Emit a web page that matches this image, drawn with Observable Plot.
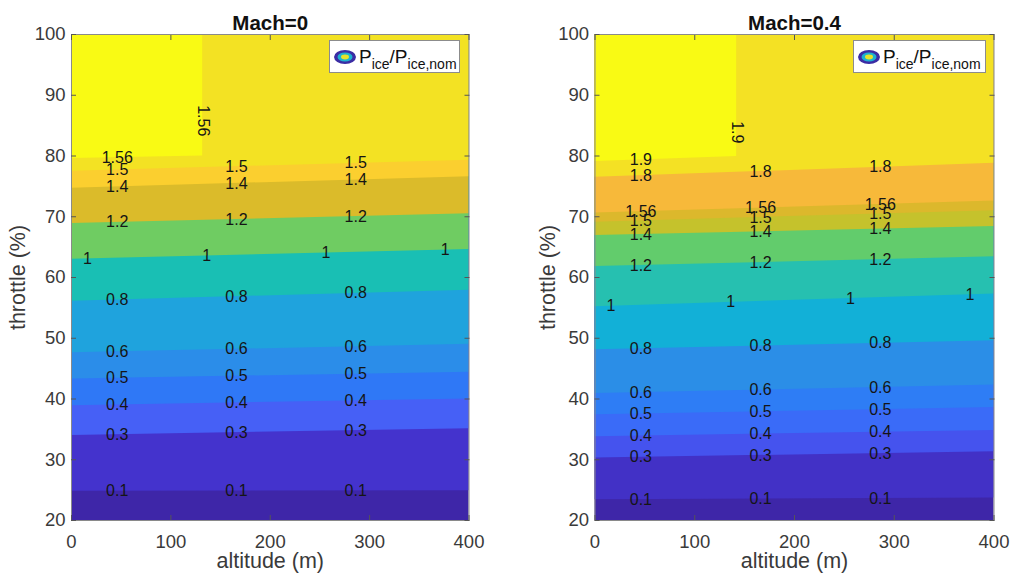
<!DOCTYPE html>
<html><head><meta charset="utf-8">
<script src="https://cdn.jsdelivr.net/npm/d3@7"></script>
<script src="https://cdn.jsdelivr.net/npm/@observablehq/plot@0.6"></script>
<style>
body{margin:0;background:#fff;font-family:"Liberation Sans",Arial,sans-serif}
#wrap{position:relative;width:1020px;height:580px;overflow:hidden}
.panel{position:absolute;top:0}
.leg{position:absolute;background:#fff;border:1px solid #8c8c8c;box-sizing:border-box;color:#111;white-space:nowrap;display:flex;align-items:center;font-size:19px;line-height:1}
.leg svg{margin:0 2px 0 3px}
.leg .sb{font-size:14px;position:relative;top:7px}
</style></head>
<body><div id="wrap"></div>
<script>
// ---------- data ----------
const xTicks = [0, 100, 200, 300, 400];
const yTicks = [20, 30, 40, 50, 60, 70, 80, 90, 100];
const labelAlts = [46, 166, 286];          // where contour labels sit
const labelAltsOne = [16, 136, 256, 376];  // labels of the level-1 contour
const titles = ["Mach=0", "Mach=0.4"];
const legendText = ["P", "ice", "/P", "ice,nom"];

// Mach = 0
const levelsM0 = [0.1, 0.3, 0.4, 0.5, 0.6, 0.8, 1, 1.2, 1.4, 1.5, 1.56];
const thrAt0M0 = [24.8, 34.0, 38.9, 43.3, 47.6, 56.1, 63.0, 68.9, 74.7, 77.5, 79.6];
const thrAt400M0 = [24.9, 35.1, 40.0, 44.4, 49.0, 57.9, 64.6, 70.5, 76.6, 79.3, null];
const cornerAltM0 = 132, cornerThrM0 = 80.0, vertLabelThrM0 = 85.8;
const fillsM0 = ["#3e26a8", "#4433cd", "#4660f6", "#2f78f6", "#2b8de9", "#1fa3dd",
  "#19bfb4", "#6fcc62", "#dbbb2a", "#fbcf2f", "#f3e223", "#f9fa14"];

// Mach = 0.4
const levelsM4 = [0.1, 0.3, 0.4, 0.5, 0.6, 0.8, 1, 1.2, 1.4, 1.5, 1.56, 1.8, 1.9];
const thrAt0M4 = [23.4, 30.3, 33.8, 37.4, 40.9, 48.1, 55.2, 61.8, 66.9, 69.1, 70.6, 76.5, 79.1];
const thrAt400M4 = [23.7, 31.3, 34.8, 38.6, 42.3, 49.6, 57.3, 63.4, 68.4, 71.0, 72.6, 78.8, null];
const cornerAltM4 = 142, cornerThrM4 = 79.9, vertLabelThrM4 = 83.9;
const fillsM4 = ["#3e26a8", "#4231c6", "#4553ee", "#3a6bf8", "#2e7df5", "#2b8ee7",
  "#12b0d7", "#26c0b0", "#62cc6c", "#c5c22c", "#dcb82c", "#f7b93a", "#f4e124", "#f9fa14"];

const panels = [
  {title: titles[0], levels: levelsM0, a: thrAt0M0, b: thrAt400M0, cAlt: cornerAltM0, cThr: cornerThrM0, vThr: vertLabelThrM0, fills: fillsM0,
   left: 0, mL: 71, mR: 41.5, ylabDx: -53, leg: {x: 329, w: 131}},
  {title: titles[1], levels: levelsM4, a: thrAt0M4, b: thrAt400M4, cAlt: cornerAltM4, cThr: cornerThrM4, vThr: vertLabelThrM4, fills: fillsM4,
   left: 510, mL: 84.5, mR: 26.5, ylabDx: -47, leg: {x: 853, w: 133}}
];

const X0 = xTicks[0], X1 = xTicks[xTicks.length - 1];
const Y0 = yTicks[0], Y1 = yTicks[yTicks.length - 1];

function lineAt(p, k, alt) {
  const n = p.levels.length;
  if (k === n - 1) return p.a[k] + (p.cThr - p.a[k]) * alt / p.cAlt;
  return p.a[k] + (p.b[k] - p.a[k]) * (alt - X0) / (X1 - X0);
}

function build(p) {
  const n = p.levels.length;
  const bands = [];
  for (let i = 0; i <= n; i++) {
    if (i === 0) { bands.push({band: i, alt: X0, lo: Y0}, {band: i, alt: X1, lo: Y0}); }
    else if (i < n) { bands.push({band: i, alt: X0, lo: p.a[i - 1]}, {band: i, alt: X1, lo: p.b[i - 1]}); }
    else { bands.push({band: i, alt: X0, lo: p.a[n - 1]}, {band: i, alt: p.cAlt, lo: p.cThr}); }
  }
  const labels = [];
  p.levels.forEach((lv, k) => {
    const alts = k === n - 1 ? [labelAlts[0]] : (lv === 1 ? labelAltsOne : labelAlts);
    alts.forEach(alt => labels.push({alt, thr: lineAt(p, k, alt), text: String(lv)}));
  });
  const vlabel = [{alt: p.cAlt, thr: p.vThr, text: String(p.levels[n - 1])}];

  return Plot.plot({
    width: 510, height: 580,
    marginLeft: p.mL, marginRight: p.mR, marginTop: 34, marginBottom: 60,
    style: {fontFamily: "'Liberation Sans', Arial, sans-serif", color: "#3a3a3a", background: "transparent"},
    x: {domain: [X0, X1]},
    y: {domain: [Y0, Y1]},
    color: {type: "identity"},
    marks: [
      Plot.areaY(bands, {x: "alt", y1: "lo", y2: Y1, z: "band", fill: d => p.fills[d.band], curve: "linear"}),
      Plot.text(labels, {x: "alt", y: "thr", text: "text", fontSize: 16, fill: "#151515"}),
      Plot.text(vlabel, {x: "alt", y: "thr", text: "text", fontSize: 16, fill: "#151515", rotate: 90}),
      Plot.frame({stroke: "#8a8a8a", strokeWidth: 1}),
      Plot.axisX(xTicks, {anchor: "bottom", tickSize: -5, tickPadding: 19, fontSize: 18.5, label: null, stroke: "#555"}),
      Plot.axisX(xTicks, {anchor: "top", tickSize: -5, tickFormat: () => "", label: null, stroke: "#555"}),
      Plot.axisY(yTicks, {anchor: "left", tickSize: -5, tickPadding: 11, fontSize: 18.5, label: null, stroke: "#555"}),
      Plot.axisY(yTicks, {anchor: "right", tickSize: -5, tickFormat: () => "", label: null, stroke: "#555"}),
      Plot.text([p.title], {frameAnchor: "top", dy: -19, fontSize: 20.5, fontWeight: "bold", fill: "#111"}),
      Plot.text(["altitude (m)"], {frameAnchor: "bottom", dy: 47, fontSize: 21.5, fill: "#3a3a3a"}),
      Plot.text(["throttle (%)"], {frameAnchor: "left", textAnchor: "middle", dx: p.ylabDx, rotate: -90, fontSize: 21.5, fill: "#3a3a3a"})
    ]
  });
}

const wrap = document.getElementById("wrap");
panels.forEach(p => {
  const svg = build(p);
  svg.classList.add("panel");
  svg.style.left = p.left + "px";
  wrap.appendChild(svg);
  const leg = document.createElement("div");
  leg.className = "leg";
  leg.style.left = p.leg.x + "px";
  leg.style.top = "40px";
  leg.style.width = p.leg.w + "px";
  leg.style.height = "33px";
  leg.innerHTML = `<svg width="24" height="16" viewBox="0 0 24 16">
    <ellipse cx="12" cy="8" rx="11" ry="7" fill="#3b2ca4"/>
    <ellipse cx="12" cy="8" rx="7.5" ry="4.6" fill="#1eb2cf"/>
    <ellipse cx="12" cy="8" rx="4" ry="2.4" fill="#e6e32a"/></svg>` +
    `<span>${legendText[0]}</span><span class="sb">${legendText[1]}</span><span>${legendText[2]}</span><span class="sb">${legendText[3]}</span>`;
  wrap.appendChild(leg);
});
</script>
</body></html>
